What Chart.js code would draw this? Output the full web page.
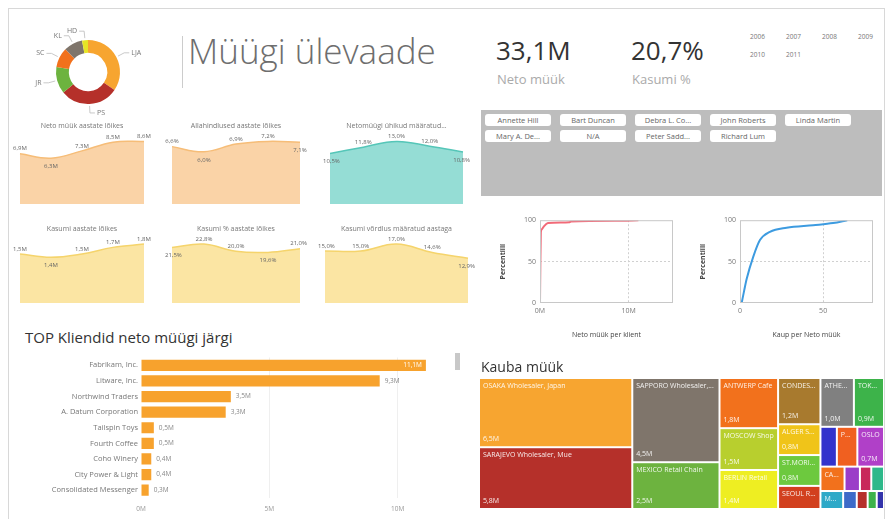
<!DOCTYPE html>
<html>
<head>
<meta charset="utf-8">
<script src="https://cdn.jsdelivr.net/npm/chart.js@4.4.0/dist/chart.umd.min.js"></script>
<style>
  body { margin: 0; background: #fff; font-family: "Open Sans", "Noto Sans", sans-serif; }
  #page { position: relative; width: 890px; height: 519px; overflow: hidden; background: #fff; }
  .abs { position: absolute; }
  .frame { left: 8px; top: 8px; width: 875px; height: 520px; border: 1px solid #d8d8d8; }
  .title { left: 188px; top: 27px; font-size: 35px; font-weight: 300; color: #6e6e6e; white-space: nowrap; }
  .kpi { font-size: 26px; color: #333; top: 32px; }
  .kpiLabel { font-size: 13px; color: #aaa; top: 70px; }
  .year { font-size: 6.5px; color: #777; }
  .slicer { left: 481px; top: 110px; width: 401px; height: 86px; background: #bdbdbd; }
  .btn { position: absolute; width: 66px; height: 12px; line-height: 12px; background: #fff; border-radius: 3px;
         font-size: 7.5px; color: #666; text-align: center; white-space: nowrap; overflow: hidden; }
  .sectionTitle { font-size: 15px; color: #333; white-space: nowrap; }
</style>
</head>
<body>
<div id="page">
  <div class="abs frame"></div>

  <div class="abs" style="left:20px;top:20px;width:136px;height:104px"><canvas id="donut"></canvas></div>
  <div class="abs" style="left:182px;top:36px;width:1px;height:52px;background:#ccc"></div>
  <div class="abs title">Müügi ülevaade</div>
  <div class="abs kpi" style="left:496px">33,1M</div>
  <div class="abs kpiLabel" style="left:497px">Neto müük</div>
  <div class="abs kpi" style="left:631px">20,7%</div>
  <div class="abs kpiLabel" style="left:632px">Kasumi %</div>
  <div id="years"></div>

  <div class="abs" style="left:12px;top:118px;width:140px;height:86px"><canvas id="a1"></canvas></div>
  <div class="abs" style="left:164px;top:118px;width:144px;height:86px"><canvas id="a2"></canvas></div>
  <div class="abs" style="left:322px;top:118px;width:149px;height:86px"><canvas id="a3"></canvas></div>
  <div class="abs" style="left:12px;top:221px;width:140px;height:82px"><canvas id="a4"></canvas></div>
  <div class="abs" style="left:164px;top:221px;width:144px;height:82px"><canvas id="a5"></canvas></div>
  <div class="abs" style="left:317px;top:221px;width:159px;height:82px"><canvas id="a6"></canvas></div>

  <div class="abs slicer" id="slicer"></div>

  <div class="abs" style="left:495px;top:212px;width:185px;height:130px"><canvas id="p1"></canvas></div>
  <div class="abs" style="left:695px;top:212px;width:185px;height:130px"><canvas id="p2"></canvas></div>

  <div class="abs sectionTitle" style="left:25px;top:327px">TOP Kliendid neto müügi järgi</div>
  <div class="abs" style="left:20px;top:350px;width:436px;height:168px"><canvas id="bars"></canvas></div>
  <div class="abs" style="left:455px;top:353px;width:5px;height:17px;background:#c8c8c8"></div>

  <div class="abs sectionTitle" style="left:481px;top:357px;font-size:14px">Kauba müük</div>
  <div class="abs" style="left:479px;top:378px;width:405px;height:131px"><canvas id="tree"></canvas></div>
</div>

<script>
// --- data ---
const years = ['2006', '2007', '2008', '2009', '2010', '2011'];
const trendYears = ['2007', '2008', '2009', '2010', '2011'];

const regions = ['LJA', 'PS', 'JR', 'SC', 'KL', 'HD'];
const regionShare = [34.5, 29.5, 13.5, 10, 9.5, 3];

const netSales = [6.9, 6.3, 7.3, 8.5, 8.6];
const discounts = [6.6, 6.0, 6.9, 7.2, 7.1];
const unitsVsYear = [10.5, 11.8, 13.0, 12.0, 10.8];
const profit = [1.5, 1.4, 1.5, 1.7, 1.8];
const profitPct = [21.5, 22.8, 20.0, 19.6, 21.0];
const profitVsYear = [15.0, 15.0, 17.0, 14.6, 12.9];

const salesPeople = ['Annette Hill', 'Bart Duncan', 'Debra L. Co...', 'John Roberts', 'Linda Martin',
  'Mary A. De...', 'N/A', 'Peter Sadd...', 'Richard Lum'];

const custSalesX = [0, 0.02, 0.05, 0.08, 0.1, 0.2, 0.4, 0.9, 3.3, 3.5, 9.3, 11.1];
const custSalesP = [0, 25, 55, 75, 86, 89, 92, 96.5, 97.5, 98.5, 99.3, 100];
const itemShareX = [1, 2.5, 4, 8, 12, 18, 28, 44, 56, 64.5];
const itemShareP = [0, 15, 29, 56, 76, 86, 91, 94, 96.5, 100];

const customers = ['Fabrikam, Inc.', 'Litware, Inc.', 'Northwind Traders', 'A. Datum Corporation', 'Tailspin Toys',
  'Fourth Coffee', 'Coho Winery', 'City Power & Light', 'Consolidated Messenger'];
const customerSales = [11.1, 9.3, 3.5, 3.3, 0.5, 0.5, 0.4, 0.4, 0.3];

const items = ['OSAKA Wholesaler, Japan', 'SARAJEVO Wholesaler, Mue', 'SAPPORO Wholesaler, Japan', 'MEXICO Retail Chain',
  'ANTWERP Cafe', 'MOSCOW Shop', 'BERLIN Retail', 'CONDESA Cafe', 'ALGER Shop', 'ST.MORITZ Cafe', 'SEOUL Retail',
  'ATHENS Shop', 'TOKYO Retail', 'REIMS', 'PARIS', 'OSLO', 'CAIRO', 'LYON', 'ROMA', 'NICE', 'MELBOURNE', 'LIMA', 'KIEV', 'BONN', 'RIGA'];
const itemSales = [6.5, 5.8, 4.5, 2.5, 1.8, 1.5, 1.4, 1.2, 0.8, 0.8, 0.6, 1.0, 0.9,
  0.4, 0.5, 0.65, 0.36, 0.23, 0.17, 0.19, 0.25, 0.15, 0.12, 0.1, 0.08];
// columns -> rows -> item indexes
const treeGroups = [[[0], [1]], [[2], [3]], [[4], [5], [6]], [[7], [8], [9], [10]],
  [[11, 12], [13, 14, 15], [16, 17, 18, 19], [20, 21, 22, 23, 24]]];
const treeColors = ['#f7a530', '#b5302a', '#7f756b', '#6db33f', '#f2711c', '#b8cf2e', '#eeee22', '#a87a2e',
  '#f0c419', '#6dc93e', '#d2401e', '#808080', '#3db34a', '#3333cc', '#f06020', '#b040c8', '#f2711c',
  '#9b3dc8', '#c8285a', '#2eb88a', '#2ea9c8', '#3d6ac8', '#b5302a', '#3db34a', '#3333aa'];

const F = '"Open Sans", "Noto Sans", sans-serif';
Chart.defaults.font.family = F;
Chart.defaults.animation = false;

const fmt = (v, suffix) => v.toFixed(1).replace('.', ',') + suffix;

// --- html pieces ---
const yearBox = document.getElementById('years');
years.forEach((y, i) => {
  const d = document.createElement('div');
  d.className = 'abs year';
  d.style.left = (750 + (i % 4) * 36) + 'px';
  d.style.top = (32 + Math.floor(i / 4) * 18) + 'px';
  d.textContent = y;
  yearBox.appendChild(d);
});

const slicer = document.getElementById('slicer');
salesPeople.forEach((n, i) => {
  const b = document.createElement('div');
  b.className = 'btn';
  b.style.left = (4 + (i % 5) * 75) + 'px';
  b.style.top = (4 + Math.floor(i / 5) * 16) + 'px';
  b.textContent = n;
  slicer.appendChild(b);
});

// --- donut ---
const donutLabels = {
  id: 'donutLabels',
  afterDatasetsDraw(chart) {
    const ctx = chart.ctx;
    const meta = chart.getDatasetMeta(0);
    ctx.save();
    ctx.font = '7px ' + F;
    ctx.fillStyle = '#777';
    ctx.strokeStyle = '#bbb';
    ctx.lineWidth = 0.8;
    ctx.textBaseline = 'middle';
    meta.data.forEach((arc, i) => {
      const a = (arc.startAngle + arc.endAngle) / 2;
      const r = arc.outerRadius;
      const x1 = arc.x + Math.cos(a) * (r + 2), y1 = arc.y + Math.sin(a) * (r + 2);
      const x2 = arc.x + Math.cos(a) * (r + 9), y2 = arc.y + Math.sin(a) * (r + 9);
      const right = Math.cos(a) >= 0;
      const x3 = x2 + (right ? 5 : -5);
      ctx.beginPath();
      ctx.moveTo(x1, y1); ctx.lineTo(x2, y2); ctx.lineTo(x3, y2);
      ctx.stroke();
      ctx.textAlign = right ? 'left' : 'right';
      ctx.fillText(chart.data.labels[i], x3 + (right ? 2 : -2), y2);
    });
    ctx.restore();
  }
};

new Chart(document.getElementById('donut'), {
  type: 'doughnut',
  data: {
    labels: regions,
    datasets: [{
      data: regionShare,
      backgroundColor: ['#f7a530', '#b5302a', '#6db33f', '#f2711c', '#7f756b', '#e6e526'],
      borderWidth: 0
    }]
  },
  options: {
    responsive: true, maintainAspectRatio: false,
    cutout: '60%',
    layout: { padding: 20 },
    plugins: { legend: { display: false }, tooltip: { enabled: false } }
  },
  plugins: [donutLabels]
});

// --- small area charts ---
const pointLabels = {
  id: 'pointLabels',
  afterDatasetsDraw(chart, args, opts) {
    const ctx = chart.ctx;
    const vals = chart.data.datasets[0].data;
    const meta = chart.getDatasetMeta(0);
    ctx.save();
    ctx.font = '6px ' + F;
    ctx.fillStyle = '#666';
    ctx.textAlign = 'center';
    ctx.textBaseline = 'middle';
    meta.data.forEach((pt, i) => {
      const v = vals[i];
      const prev = i > 0 ? vals[i - 1] : vals[i + 1];
      const next = i < vals.length - 1 ? vals[i + 1] : vals[i - 1];
      const below = v < prev && v <= next;
      const txt = fmt(v, opts.suffix);
      const w = ctx.measureText(txt).width;
      const x = Math.min(Math.max(pt.x, w / 2 + 1), chart.width - w / 2 - 1);
      ctx.fillText(txt, x, below ? pt.y + 8 : pt.y - 5);
    });
    ctx.restore();
  }
};

function smallArea(id, title, values, suffix, fill, line) {
  new Chart(document.getElementById(id), {
    type: 'line',
    data: {
      labels: trendYears,
      datasets: [{
        data: values, fill: 'origin', backgroundColor: fill, borderColor: line,
        borderWidth: 1.5, pointRadius: 0, tension: 0.4
      }]
    },
    options: {
      responsive: true, maintainAspectRatio: false,
      layout: { padding: { left: 8, right: 8, top: 2, bottom: 0 } },
      scales: {
        x: { display: false, offset: false },
        y: { display: false, min: 0, max: Math.max(...values) * 1.08 }
      },
      plugins: {
        legend: { display: false },
        tooltip: { enabled: false },
        title: { display: true, text: title, color: '#777', font: { size: 7, weight: 'normal' }, padding: { top: 2, bottom: 6 } },
        pointLabels: { suffix: suffix }
      }
    },
    plugins: [pointLabels]
  });
}

smallArea('a1', 'Neto müük aastate lõikes', netSales, 'M', '#fad3a7', '#f6bd78');
smallArea('a2', 'Allahindlused aastate lõikes', discounts, '%', '#fad3a7', '#f6bd78');
smallArea('a3', 'Netomüügi ühikud määratud...', unitsVsYear, '%', '#95ddd5', '#55c6b8');
smallArea('a4', 'Kasumi aastate lõikes', profit, 'M', '#fbe5a3', '#f5d46c');
smallArea('a5', 'Kasumi % aastate lõikes', profitPct, '%', '#fbe5a3', '#f5d46c');
smallArea('a6', 'Kasumi võrdlus määratud aastaga', profitVsYear, '%', '#fbe5a3', '#f5d46c');

// --- percentile charts ---
const plotBox = {
  id: 'plotBox',
  afterDraw(chart) {
    const a = chart.chartArea, ctx = chart.ctx;
    ctx.save();
    ctx.strokeStyle = '#c8c8c8';
    ctx.lineWidth = 1;
    ctx.strokeRect(a.left + 0.5, a.top + 0.5, a.right - a.left - 1, a.bottom - a.top - 1);
    ctx.restore();
  }
};

function percentile(id, xs, ps, color, xMax, xStep, suffix, xTitle) {
  const midGrid = (c) => (c.index === 0 || c.tick.value >= c.scale.max) ? 'transparent' : '#d0d0d0';
  new Chart(document.getElementById(id), {
    type: 'scatter',
    data: {
      datasets: [{
        data: xs.map((x, i) => ({ x: x, y: ps[i] })),
        showLine: true, borderColor: color, borderWidth: 2, pointRadius: 0,
        cubicInterpolationMode: 'monotone'
      }]
    },
    options: {
      responsive: true, maintainAspectRatio: false,
      layout: { padding: { top: 6, right: 7, left: 0, bottom: 0 } },
      scales: {
        x: {
          type: 'linear', min: 0, max: xMax,
          afterBuildTicks: s => { s.ticks = s.ticks.filter(t => t.value % xStep === 0); },
          ticks: { stepSize: xStep, callback: v => v + suffix, color: '#777', font: { size: 7 }, padding: 4, maxRotation: 0 },
          grid: { color: midGrid, drawTicks: false },
          border: { display: false, dash: [2, 2] },
          title: { display: true, text: xTitle, color: '#444', font: { size: 7 }, padding: { top: 2, bottom: 3 } },
          afterFit: s => { s.height = 39; }
        },
        y: {
          min: 0, max: 100,
          ticks: { stepSize: 50, color: '#777', font: { size: 7 }, padding: 4 },
          grid: { color: midGrid, drawTicks: false },
          border: { display: false, dash: [2, 2] },
          title: { display: true, text: 'Percentiili', color: '#444', font: { size: 7, weight: 'bold' }, padding: 4 },
          afterFit: s => { s.width = 45; }
        }
      },
      plugins: { legend: { display: false }, tooltip: { enabled: false } }
    },
    plugins: [plotBox]
  });
}

percentile('p1', custSalesX, custSalesP, '#f26a78', 15, 10, 'M', 'Neto müük per klient');
percentile('p2', itemShareX, itemShareP, '#3d9be0', 80, 50, '', 'Kaup per Neto müük');

// --- top customers ---
const barValues = {
  id: 'barValues',
  afterDatasetsDraw(chart) {
    const ctx = chart.ctx, meta = chart.getDatasetMeta(0), vals = chart.data.datasets[0].data;
    ctx.save();
    ctx.font = '6.5px ' + F;
    ctx.textBaseline = 'middle';
    meta.data.forEach((bar, i) => {
      const txt = fmt(vals[i], 'M');
      const w = ctx.measureText(txt).width;
      if (bar.x + w + 6 > chart.chartArea.right) {
        ctx.fillStyle = '#fff';
        ctx.textAlign = 'right';
        ctx.fillText(txt, bar.x - 4, bar.y);
      } else {
        ctx.fillStyle = '#888';
        ctx.textAlign = 'left';
        ctx.fillText(txt, bar.x + 5, bar.y);
      }
    });
    ctx.restore();
  }
};

new Chart(document.getElementById('bars'), {
  type: 'bar',
  data: {
    labels: customers,
    datasets: [{ data: customerSales, backgroundColor: '#f7a22d', barPercentage: 0.72, categoryPercentage: 1 }]
  },
  options: {
    indexAxis: 'y',
    responsive: true, maintainAspectRatio: false,
    layout: { padding: { top: 7, right: 7, left: 0, bottom: 0 } },
    scales: {
      x: {
        min: 0, max: 12,
        afterBuildTicks: s => { s.ticks = s.ticks.filter(t => t.value % 5 === 0); },
        ticks: { stepSize: 5, callback: v => v + 'M', color: '#999', font: { size: 6.5 }, padding: 7 },
        grid: { color: c => c.tick && c.tick.value === 0 ? 'transparent' : '#efefef', drawTicks: false },
        border: { display: false },
        afterFit: s => { s.height = 20; }
      },
      y: {
        ticks: { color: '#777', font: { size: 7.5 }, padding: 3 },
        grid: { display: false, drawTicks: false },
        border: { display: false },
        afterFit: s => { s.width = 121; }
      }
    },
    plugins: { legend: { display: false }, tooltip: { enabled: false } }
  },
  plugins: [barValues]
});

// --- treemap (drawn on the chart area) ---
function fitText(ctx, txt, maxW) {
  if (ctx.measureText(txt).width <= maxW) return txt;
  for (let n = txt.length - 1; n > 0; n--) {
    const t = txt.slice(0, n) + '...';
    if (ctx.measureText(t).width <= maxW) return t;
  }
  return '';
}

const treemap = {
  id: 'treemap',
  afterDraw(chart) {
    const a = chart.chartArea, ctx = chart.ctx;
    const total = itemSales.reduce((s, v) => s + v, 0);
    const W = a.right - a.left, H = a.bottom - a.top;
    ctx.save();
    ctx.font = '7px ' + F;
    ctx.textBaseline = 'middle';
    let x = a.left;
    treeGroups.forEach(col => {
      const colSum = col.flat().reduce((s, i) => s + itemSales[i], 0);
      const w = W * colSum / total;
      let y = a.top;
      col.forEach(row => {
        const rowSum = row.reduce((s, i) => s + itemSales[i], 0);
        const h = H * rowSum / colSum;
        let xx = x;
        row.forEach(i => {
          const ww = w * itemSales[i] / rowSum;
          ctx.fillStyle = treeColors[i];
          ctx.fillRect(xx + 1, y + 1, ww - 2, h - 2);
          ctx.fillStyle = 'rgba(255,255,255,0.9)';
          ctx.textAlign = 'left';
          const name = fitText(ctx, items[i], ww - 8);
          if (name && h > 14) ctx.fillText(name, xx + 4, y + 8);
          if (h > 28 && ww > 24) ctx.fillText(fmt(itemSales[i], 'M'), xx + 4, y + h - 8);
          xx += ww;
        });
        y += h;
      });
      x += w;
    });
    ctx.restore();
  }
};

new Chart(document.getElementById('tree'), {
  type: 'bar',
  data: { labels: items, datasets: [] },
  options: {
    responsive: true, maintainAspectRatio: false,
    layout: { padding: 0 },
    scales: { x: { display: false }, y: { display: false } },
    plugins: { legend: { display: false }, tooltip: { enabled: false } }
  },
  plugins: [treemap]
});
</script>
</body>
</html>
